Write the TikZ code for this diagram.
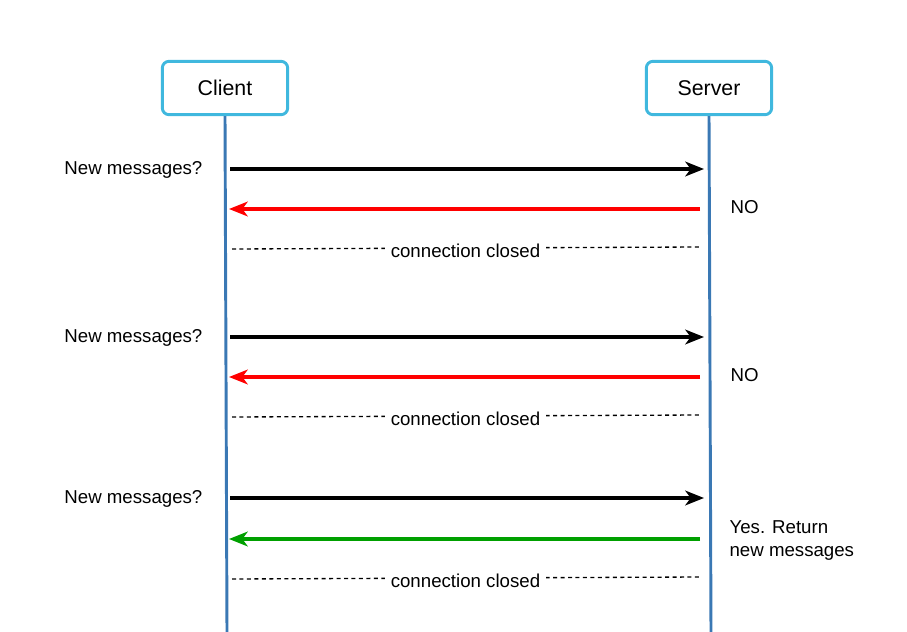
\documentclass[tikz,border=0pt]{standalone}
\usepackage{fontspec}
\setmainfont{Liberation Sans}
\usetikzlibrary{arrows.meta}
\definecolor{boxblue}{HTML}{40B8DE}
\definecolor{lifeblue}{HTML}{3A78B4}
\definecolor{okgreen}{HTML}{00A000}
\tikzset{
  actor/.style={draw=boxblue, line width=2.2pt, rounded corners=5pt, fill=white,
    minimum width=94pt, minimum height=40pt, font=\fontsize{16}{19}\selectfont},
  lifeline/.style={draw=lifeblue, line width=2.2pt},
  msg/.style={line width=2.4pt, -{Stealth[length=14pt, width=11pt, inset=4pt]}},
  closed/.style={dashed, dash pattern=on 3pt off 2.6pt, line width=1pt},
  lbl/.style={font=\fontsize{14}{17}\selectfont, inner sep=1pt}
}
\begin{document}
\begin{tikzpicture}[x=0.75pt, y=-0.75pt]
				\useasboundingbox (0,0) rectangle (907,632);

				% Actors
				\node[actor] (client) at (225,88) {Client};
				\node[actor] (server) at (709,88) {Server};

				% Lifelines
				\coordinate (clientend) at (227,632);
				\coordinate (serverend) at (711,632);
				\draw[lifeline] (client.south) -- (clientend);
				\draw[lifeline] (server.south) -- (serverend);

				% First poll
				\coordinate (c1a) at (230,169);
				\coordinate (s1a) at (704,169);
				\coordinate (s1b) at (700,209);
				\coordinate (c1b) at (229,209);
				\coordinate (c1c) at (232,249);
				\coordinate (s1c) at (699,247);
				\node[lbl, anchor=east] (ask1) at (204,170) {New messages?};
				\draw[msg] (c1a) -- (s1a);
				\draw[msg, red] (s1b) -- (c1b);
				\node[lbl, anchor=west] (no1) at (729,207) {NO};
				\draw[closed] (c1c) -- (s1c) node[lbl, midway, fill=white, inner sep=4pt, yshift=-2pt] (cc1) {connection closed};

				% Second poll
				\coordinate (c2a) at (230,337);
				\coordinate (s2a) at (704,337);
				\coordinate (s2b) at (700,377);
				\coordinate (c2b) at (229,377);
				\coordinate (c2c) at (232,417);
				\coordinate (s2c) at (699,415);
				\node[lbl, anchor=east] (ask2) at (204,338) {New messages?};
				\draw[msg] (c2a) -- (s2a);
				\draw[msg, red] (s2b) -- (c2b);
				\node[lbl, anchor=west] (no2) at (729,375) {NO};
				\draw[closed] (c2c) -- (s2c) node[lbl, midway, fill=white, inner sep=4pt, yshift=-2pt] (cc2) {connection closed};

				% Third poll
				\coordinate (c3a) at (230,498);
				\coordinate (s3a) at (704,498);
				\coordinate (s3b) at (700,539);
				\coordinate (c3b) at (229,539);
				\coordinate (c3c) at (232,579);
				\coordinate (s3c) at (699,577);
				\node[lbl, anchor=east] (ask3) at (204,499) {New messages?};
				\draw[msg] (c3a) -- (s3a);
				\draw[msg, okgreen] (s3b) -- (c3b);
				\node[lbl, anchor=north west, align=left] (yes3) at (728,519) {Yes. Return\\new messages};
				\draw[closed] (c3c) -- (s3c) node[lbl, midway, fill=white, inner sep=4pt, yshift=-2pt] (cc3) {connection closed};
\end{tikzpicture}
\end{document}
